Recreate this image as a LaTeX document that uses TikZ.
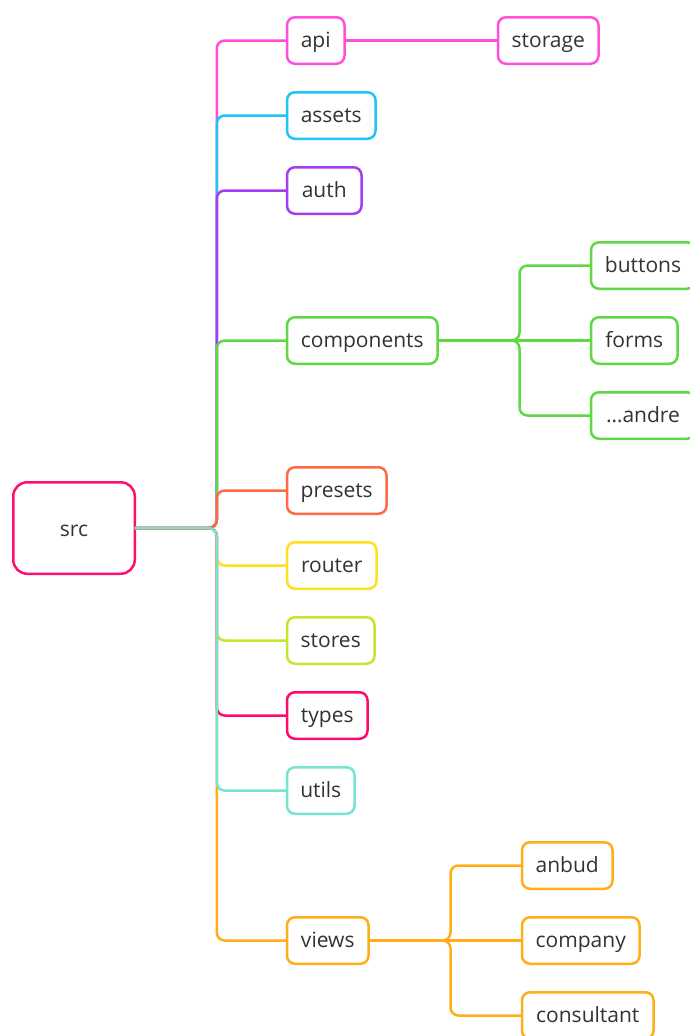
\documentclass[tikz,border=0pt]{standalone}
\usepackage{fontspec}
\setmainfont{Open Sans}
\definecolor{txt}{HTML}{333333}
\definecolor{cSrc}{HTML}{FF0F6E}
\definecolor{cApi}{HTML}{FF4FDB}
\definecolor{cAssets}{HTML}{1EC6F7}
\definecolor{cAuth}{HTML}{A63CF2}
\definecolor{cComp}{HTML}{5ED844}
\definecolor{cPresets}{HTML}{FF6A45}
\definecolor{cRouter}{HTML}{FFE01C}
\definecolor{cStores}{HTML}{C0E92E}
\definecolor{cTypes}{HTML}{FF0A6C}
\definecolor{cUtils}{HTML}{76E4D0}
\definecolor{cViews}{HTML}{FFAE18}
\tikzset{
  topic/.style={draw=#1, line width=2.5pt, rounded corners=8pt, fill=white,
    text=txt, font=\fontsize{21}{25}\selectfont, minimum height=46.5pt,
    text height=16pt, text depth=2.5pt,
    inner xsep=13pt, inner ysep=0pt, outer sep=0pt, anchor=west},
  conn/.style={draw=#1, line width=2.5pt, rounded corners=8pt},
}
\begin{document}
\begin{tikzpicture}[x=1pt, y=-1pt]
\useasboundingbox[fill=white] (0,0) rectangle (689,1036);

% root
\node[topic=cSrc, rounded corners=14pt, minimum width=121.5pt, minimum height=91.5pt,
  text height=19pt, text depth=2pt, anchor=center] (src) at (74,528) {src};

% first level
\node[topic=cApi, minimum width=57.5pt] (api) at (287,40.5) {api};
\node[topic=cAssets, minimum width=88.5pt] (assets) at (287,115.5) {assets};
\node[topic=cAuth, minimum width=74.5pt] (auth) at (287,190.5) {auth};
\node[topic=cComp, minimum width=150.5pt] (components) at (287,340.5) {components};
\node[topic=cPresets, minimum width=99.5pt] (presets) at (287,490.5) {presets};
\node[topic=cRouter, minimum width=89.5pt] (router) at (287,565.5) {router};
\node[topic=cStores, minimum width=87.5pt] (stores) at (287,640.5) {stores};
\node[topic=cTypes, minimum width=80.5pt] (types) at (287,715.5) {types};
\node[topic=cUtils, minimum width=67.5pt] (utils) at (287,790.5) {utils};
\node[topic=cViews, minimum width=81.5pt] (views) at (287,940.5) {views};

% second level
\node[topic=cApi, minimum width=100.5pt] (storage) at (498,40.5) {storage};
\node[topic=cComp, minimum width=104pt] (buttons) at (591,265.5) {buttons};
\node[topic=cComp, minimum width=86.5pt] (forms) at (591,340.5) {forms};
\node[topic=cComp, minimum width=104pt] (andre) at (591,415.5) {…andre};
\node[topic=cViews, minimum width=90.5pt] (anbud) at (522,865.5) {anbud};
\node[topic=cViews, minimum width=117.5pt] (company) at (522,940.5) {company};
\node[topic=cViews, minimum width=131.5pt] (consultant) at (522,1015.5) {consultant};

% connectors from the root, in stacking order
\draw[conn=cApi] (src.east) -- ++(82,0) |- (api.west);
\draw[conn=cAssets] (src.east) -- ++(82,0) |- (assets.west);
\draw[conn=cAuth] (src.east) -- ++(82,0) |- (auth.west);
\draw[conn=cComp] (src.east) -- ++(82,0) |- (components.west);
\draw[conn=cPresets] (src.east) -- ++(82,0) |- (presets.west);
\draw[conn=cViews] (src.east) -- ++(82,0) |- (views.west);
\draw[conn=cRouter] (src.east) -- ++(82,0) |- (router.west);
\draw[conn=cStores] (src.east) -- ++(82,0) |- (stores.west);
\draw[conn=cTypes] (src.east) -- ++(82,0) |- (types.west);
\draw[conn=cUtils] (src.east) -- ++(82,0) |- (utils.west);

% sub-branches
\draw[conn=cApi] (api.east) -- (storage.west);
\draw[conn=cComp] (components.east) -- ++(82,0) |- (buttons.west);
\draw[conn=cComp] (components.east) -- (forms.west);
\draw[conn=cComp] (components.east) -- ++(82,0) |- (andre.west);
\draw[conn=cViews] (views.east) -- ++(82,0) |- (anbud.west);
\draw[conn=cViews] (views.east) -- (company.west);
\draw[conn=cViews] (views.east) -- ++(82,0) |- (consultant.west);
\end{tikzpicture}
\end{document}
